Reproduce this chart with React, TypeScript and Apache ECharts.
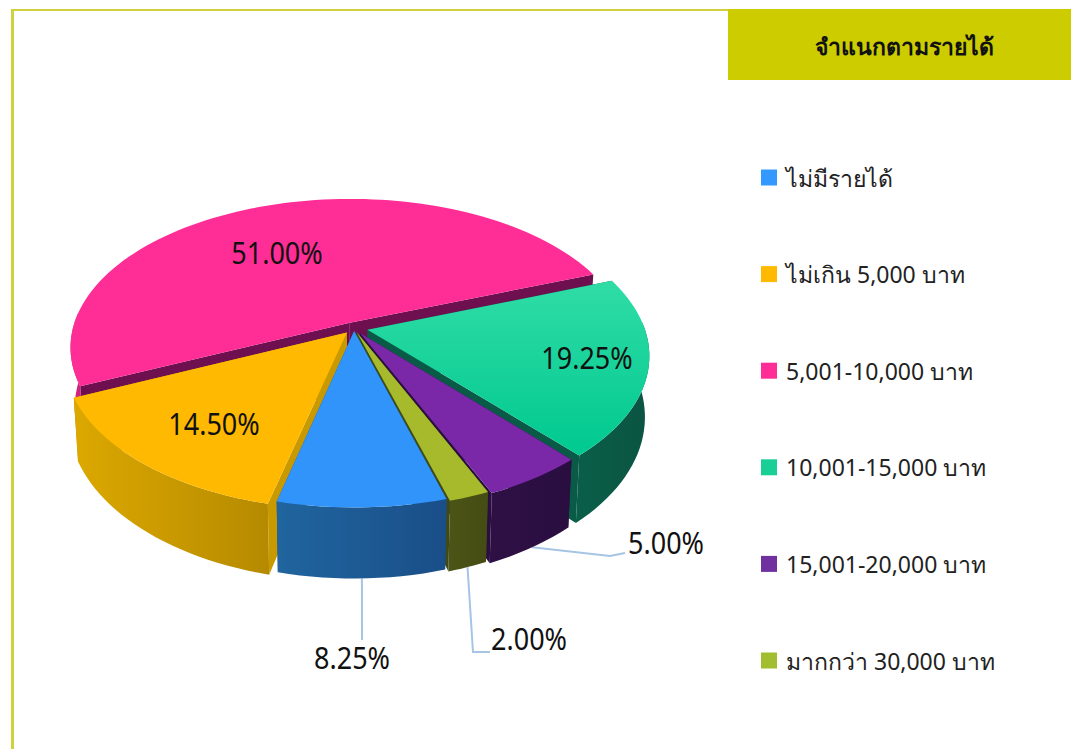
import React, { useEffect, useRef } from "react";
import * as echarts from "echarts";

const categories = ["ไม่มีรายได้", "ไม่เกิน 5,000 บาท", "5,001-10,000 บาท", "10,001-15,000 บาท", "15,001-20,000 บาท", "มากกว่า 30,000 บาท"];
const shares = [8.25, 14.5, 51, 19.25, 5, 2];
const explodes = [0.02, 0.04, 0.04, 0.05, 0.04, 0.03];
const titleText = "จำแนกตามรายได้";

const topColors: any[] = ["#3094FA", "#FFB900", "#FF2D96", null, "#7A28A8", "#A6BA2C"];
const legendColors = ["#3399FF", "#FFB900", "#FF2D96", "#19CF95", "#7030A0", "#A2BD30"];
const wallColors = [
  ["#20659F", "#1A4E88"],
  ["#DCA800", "#B58A00"],
  ["#D42A84", "#C82078"],
  ["#0A5F49", "#0A5442"],
  ["#2E1045", "#2A0E40"],
  ["#4C5416", "#454C14"],
];
const cutColors = ["#1A4E88", "#C99A00", "#6E0F50", "#0A5A48", "#2A0E40", "#3E4A18"];
const labelCenters = [[352, 657.5], [214, 423.5], [277, 252.5], [587, 357.5], [666, 542], [529, 638.5]];
const leaderPaths: number[][][] = [
  [[362, 640]],
  [],
  [],
  [],
  [[610, 556], [625, 553]],
  [[473, 652], [490, 652]],
];

const START = 73.8;
const CX = 354, CY = 328, R = 277, RK = 146, P = 1 / 6, H = 59;
const rad = (a: number) => (a * Math.PI) / 180;
const total = shares.reduce((a, b) => a + b, 0);
const spans = shares.map((v, i) => {
  const before = shares.slice(0, i).reduce((a, b) => a + b, 0);
  const a0 = START + (before / total) * 360;
  const a1 = a0 + (v / total) * 360;
  return [a0, a1, (a0 + a1) / 2];
});

function project(theta: number, r: number, i: number, lower: boolean) {
  const m = rad(spans[i][2]);
  const e = explodes[i];
  const X = r * Math.cos(rad(theta)) + e * Math.cos(m);
  const Y = r * Math.sin(rad(theta)) + e * Math.sin(m);
  const d = 1 - P * Y;
  let x = CX + (R * X) / d;
  let y = CY + (RK * Y) / d;
  if (lower) {
    y += H / d;
    x = CX + (x - CX) * 0.985;
  }
  return [x, y];
}

function arcAngles(i: number) {
  const [a0, a1] = spans[i];
  const n = Math.max(6, Math.ceil((a1 - a0) / 2));
  const out: number[] = [];
  for (let k = 0; k <= n; k++) out.push(a0 + ((a1 - a0) * k) / n);
  return out;
}

const fontLabel = "'Noto Sans', 'Open Sans', sans-serif";
const rank = spans
  .map((s, i) => ({ i, v: Math.sin(rad(s[2])) }))
  .sort((a, b) => a.v - b.v)
  .map((o) => o.i);

function renderSlice(i: number) {
  return (_params: any, api: any) => {
    const value = api.value(0);
    const [a0, a1, mid] = spans[i];
    const apexT = project(0, 0, i, false);
    const apexB = project(0, 0, i, true);
    const angles = arcAngles(i);
    const topArc = angles.map((a) => project(a, 1, i, false));
    const visible = angles.filter((a) => Math.sin(rad(a)) > -0.08);
    const children: any[] = [];

    const leader = leaderPaths[i];
    if (leader.length) {
      children.push({
        type: "polyline",
        z2: 0,
        shape: { points: [project(mid, 1, i, true), ...leader] },
        style: { stroke: "#A6C4E4", lineWidth: 2, fill: "none" },
      });
    }
    const cut = (a: number) => [apexT, project(a, 1, i, false), project(a, 1, i, true), apexB];
    children.push({ type: "polygon", z2: 1, shape: { points: cut(a0) }, style: { fill: cutColors[i] } });
    children.push({ type: "polygon", z2: 1, shape: { points: cut(a1) }, style: { fill: cutColors[i] } });
    if (visible.length > 1) {
      children.push({
        type: "polygon",
        z2: 2,
        shape: {
          points: [
            ...visible.map((a) => project(a, 1, i, false)),
            ...visible.slice().reverse().map((a) => project(a, 1, i, true)),
          ],
        },
        style: {
          fill: new echarts.graphic.LinearGradient(0, 0, 1, 0, [
            { offset: 0, color: wallColors[i][0] },
            { offset: 1, color: wallColors[i][1] },
          ]),
        },
      });
    }
    children.push({
      type: "polygon",
      z2: 3,
      shape: { points: [apexT, ...topArc] },
      style: {
        fill:
          topColors[i] ||
          new echarts.graphic.LinearGradient(0, 0, 0, 1, [
            { offset: 0, color: "#30DCA6" },
            { offset: 1, color: "#00C98F" },
          ]),
      },
    });
    const [lx, ly] = labelCenters[i];
    children.push({
      type: "text",
      z2: 4,
      x: lx,
      y: ly,
      scaleY: 1.15,
      style: {
        text: value.toFixed(2) + "%",
        fontFamily: fontLabel,
        fontSize: 27,
        fill: "#111111",
        align: "center",
        verticalAlign: "middle",
      },
    });
    return { type: "group", children };
  };
}

export default function App() {
  const ref = useRef<HTMLDivElement>(null);
  useEffect(() => {
    document.body.style.margin = "0";
    const chart = echarts.init(ref.current!, null, { renderer: "svg" });
    chart.setOption({
      animation: false,
      backgroundColor: "#FFFFFF",
      legend: {
        orient: "vertical",
        left: 756,
        top: 161,
        icon: "rect",
        itemWidth: 16,
        itemHeight: 16,
        itemGap: 73.6,
        selectedMode: false,
        data: categories,
        textStyle: { fontFamily: "'Noto Sans', sans-serif", fontSize: 23, color: "#222222", padding: [0, 0, 0, 4] },
      },
      graphic: [
        { type: "rect", z: 0, shape: { x: 11, y: 9, width: 3, height: 740 }, style: { fill: "#CFD23C" } },
        { type: "rect", z: 0, shape: { x: 11, y: 9, width: 717, height: 2 }, style: { fill: "#CFD23C" } },
        { type: "rect", z: 0, shape: { x: 728, y: 9, width: 343, height: 71 }, style: { fill: "#CCCC00" } },
        {
          type: "text",
          z: 1,
          x: 904,
          y: 46,
          style: {
            text: titleText,
            fontFamily: "'Noto Sans', sans-serif",
            fontWeight: "bold",
            fontSize: 23,
            fill: "#111111",
            align: "center",
            verticalAlign: "middle",
          },
        },
      ],
      series: categories.map((name, i) => ({
        type: "custom",
        name,
        coordinateSystem: "none",
        z: 2 + rank.indexOf(i),
        silent: true,
        itemStyle: { color: legendColors[i] },
        renderItem: renderSlice(i),
        data: [[shares[i]]],
      })),
    });
    return () => chart.dispose();
  }, []);
  return <div ref={ref} style={{ width: 1071, height: 749 }} />;
}
